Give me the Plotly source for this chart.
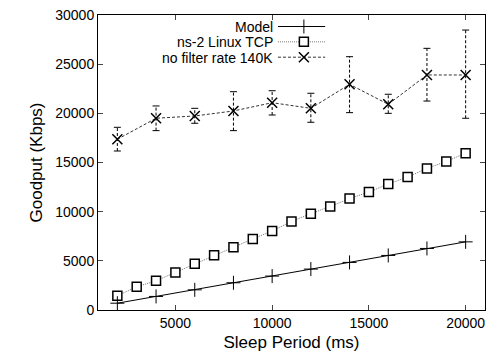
import plotly.graph_objects as go

# ---- data ----
model_x = [2000, 4000, 6000, 8000, 10000, 12000, 14000, 16000, 18000, 20000]
model_y = [690, 1380, 2050, 2770, 3450, 4160, 4840, 5550, 6260, 6930]

ns2_x = [2000, 3000, 4000, 5000, 6000, 7000, 8000, 9000, 10000, 11000,
         12000, 13000, 14000, 15000, 16000, 17000, 18000, 19000, 20000]
ns2_y = [1440, 2360, 2970, 3820, 4700, 5580, 6390, 7230, 8040, 9000,
         9800, 10520, 11330, 12000, 12810, 13520, 14400, 15110, 15950]

nf_x = [2000, 4000, 6000, 8000, 10000, 12000, 14000, 16000, 18000, 20000]
nf_y = [17360, 19500, 19730, 20240, 21080, 20510, 22950, 20920, 23900, 23900]
nf_hi = [18580, 20750, 20510, 22200, 22300, 22040, 25760, 21940, 26610, 28470]
nf_lo = [16170, 18240, 18990, 18240, 19830, 19090, 20070, 20000, 21250, 19500]

legend_names = ["Model", "ns-2 Linux TCP", "no filter rate 140K"]
x_ticks = [5000, 10000, 15000, 20000]
y_ticks = [0, 5000, 10000, 15000, 20000, 25000, 30000]

FONT = "Liberation Sans, Arial, sans-serif"

fig = go.Figure()

# error bars (dashed verticals)
ex, ey = [], []
for x, lo, hi in zip(nf_x, nf_lo, nf_hi):
    ex += [x, x, None]
    ey += [lo, hi, None]
fig.add_trace(go.Scatter(x=ex, y=ey, mode="lines",
                         line=dict(color="black", width=1, dash="3px,2px"),
                         hoverinfo="skip", showlegend=False))
# caps
fig.add_trace(go.Scatter(x=nf_x + nf_x, y=nf_lo + nf_hi, mode="markers",
                         marker=dict(symbol="line-ew", size=5,
                                     line=dict(color="black", width=1)),
                         hoverinfo="skip", showlegend=False))

# no filter series
fig.add_trace(go.Scatter(x=nf_x, y=nf_y, mode="lines+markers",
                         line=dict(color="#333", width=1, dash="3px,2px"),
                         marker=dict(symbol="x-thin", size=10,
                                     line=dict(color="black", width=1.5)),
                         showlegend=False))

# ns-2 series
fig.add_trace(go.Scatter(x=ns2_x, y=ns2_y, mode="lines+markers",
                         line=dict(color="#777", width=1, dash="1px,1px"),
                         marker=dict(symbol="square", size=9, color="white",
                                     line=dict(color="black", width=1.5)),
                         showlegend=False))

# model series
fig.add_trace(go.Scatter(x=model_x, y=model_y, mode="lines+markers",
                         line=dict(color="black", width=1),
                         marker=dict(symbol="cross-thin", size=10,
                                     line=dict(color="black", width=1)),
                         showlegend=False))

# ---- manual legend (text left of sample, gnuplot style) ----
leg_y = [0.961, 0.909, 0.857]
leg_text_x = 0.455
leg_line = [0.465, 0.587]
leg_mark_x = 0.532
styles = [
    (dict(color="black", width=1), dict(symbol="cross-thin", size=10, line=dict(color="black", width=1))),
    (dict(color="#777", width=1, dash="1px,1px"), dict(symbol="square", size=9, color="white", line=dict(color="black", width=1.5))),
    (dict(color="#333", width=1, dash="3px,2px"), dict(symbol="x-thin", size=10, line=dict(color="black", width=1.5))),
]
for name, yy, (ls, ms) in zip(legend_names, leg_y, styles):
    fig.add_trace(go.Scatter(x=leg_line, y=[yy, yy], mode="lines", line=ls,
                             xaxis="x2", yaxis="y2", hoverinfo="skip", showlegend=False))
    fig.add_trace(go.Scatter(x=[leg_mark_x], y=[yy], mode="markers", marker=ms,
                             xaxis="x2", yaxis="y2", hoverinfo="skip", showlegend=False))
    fig.add_annotation(x=leg_text_x, y=yy, xref="paper", yref="paper", text=name,
                       showarrow=False, xanchor="right", yanchor="middle",
                       height=13, borderpad=0,
                       font=dict(family=FONT, size=14, color="black"))

fig.update_layout(
    width=488, height=360,
    margin=dict(l=98, r=3, t=15, b=50),
    paper_bgcolor="white", plot_bgcolor="white",
    font=dict(family=FONT, size=14, color="black"),
    xaxis=dict(range=[1000, 21000], tickvals=x_ticks, tickformat="d",
               ticks="inside", ticklen=5,
               showline=True, linecolor="black", linewidth=1, mirror="ticks",
               showgrid=False, zeroline=False,
               title=dict(text="Sleep Period (ms)", font=dict(size=17), standoff=6)),
    yaxis=dict(range=[0, 30000], tickvals=y_ticks, tickformat="d",
               ticks="inside", ticklen=5,
               showline=True, linecolor="black", linewidth=1, mirror="ticks",
               showgrid=False, zeroline=False,
               title=dict(text="Goodput (Kbps)", font=dict(size=17), standoff=8)),
    xaxis2=dict(overlaying="x", range=[0, 1], visible=False),
    yaxis2=dict(overlaying="y", range=[0, 1], visible=False),
)

fig.write_html("out.html")
